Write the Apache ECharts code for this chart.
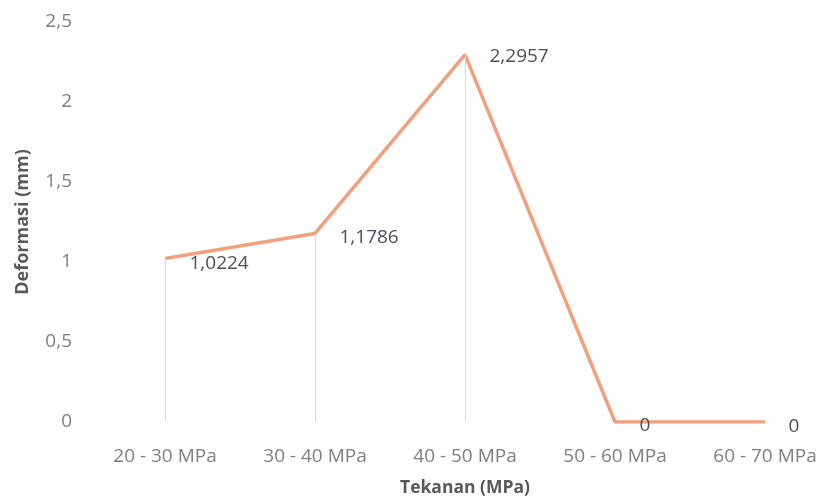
<!DOCTYPE html>
<html>
<head>
<meta charset="utf-8">
<script src="https://cdn.jsdelivr.net/npm/echarts@6/dist/echarts.min.js"></script>
<style>
  html, body { margin: 0; padding: 0; background: #fff; }
  #chart { width: 822px; height: 500px; }
</style>
</head>
<body>
<div id="chart"></div>
<script>
// Pressure ranges and the measured deformation for each
const categories = ['20 - 30 MPa', '30 - 40 MPa', '40 - 50 MPa', '50 - 60 MPa', '60 - 70 MPa'];
const deformasi = [1.0224, 1.1786, 2.2957, 0, 0];
const yTicks = { min: 0, max: 2.5, interval: 0.5 };

const FONT = '"Open Sans", sans-serif';
const fmt = v => String(v).replace('.', ',');

// per-point label placement
const labelPlacement = [
  { distance: 24, offset: [0, 5] },
  { distance: 24, offset: [0, 4] },
  { distance: 24, offset: [0, 2] },
  { distance: 24, offset: [0, 4] },
  { distance: 23, offset: [0, 5] }
];

const chart = echarts.init(document.getElementById('chart'), null, { renderer: 'canvas' });

chart.setOption({
  animation: false,
  grid: { left: 165, right: 57, top: 22, bottom: 78, containLabel: false, outerBoundsMode: 'none' },
  xAxis: {
    type: 'category',
    boundaryGap: false,
    data: categories,
    axisLine: { show: false },
    axisTick: { show: false },
    axisLabel: { color: '#7f7f7f', fontFamily: FONT, fontSize: 19, margin: 25 },
    splitLine: { show: false },
    name: 'Tekanan (MPa)',
    nameLocation: 'middle',
    nameGap: 57,
    nameTextStyle: { color: '#595959', fontFamily: FONT, fontSize: 17.5, fontWeight: 'bold' }
  },
  yAxis: {
    type: 'value',
    min: yTicks.min,
    max: yTicks.max,
    interval: yTicks.interval,
    axisLine: { show: false },
    axisTick: { show: false },
    splitLine: { show: false },
    axisLabel: { color: '#7f7f7f', fontFamily: FONT, fontSize: 19, margin: 93, formatter: fmt },
    name: 'Deformasi (mm)',
    nameLocation: 'middle',
    nameGap: 133,
    nameRotate: 90,
    nameTextStyle: { color: '#595959', fontFamily: FONT, fontSize: 18, fontWeight: 'bold' }
  },
  series: [{
    type: 'line',
    data: deformasi.map((v, i) => ({
      value: v,
      label: {
        position: 'right',
        distance: labelPlacement[i].distance,
        offset: labelPlacement[i].offset
      }
    })),
    symbol: 'circle',
    symbolSize: 1,
    showSymbol: true,
    itemStyle: { color: 'rgba(0,0,0,0)' },
    lineStyle: { color: '#f1a07e', width: 3.5 },
    label: {
      show: true,
      color: '#4a4f5c',
      fontFamily: FONT,
      fontSize: 19,
      formatter: p => fmt(p.value)
    },
    markLine: {
      silent: true,
      symbol: 'none',
      label: { show: false },
      lineStyle: { color: '#d9d9d9', width: 1, type: 'solid' },
      data: deformasi.map((v, i) => v > 0 ? [
        { coord: [i, 0] },
        { coord: [i, v] }
      ] : null).filter(Boolean)
    },
    z: 3
  }]
});
</script>
</body>
</html>
